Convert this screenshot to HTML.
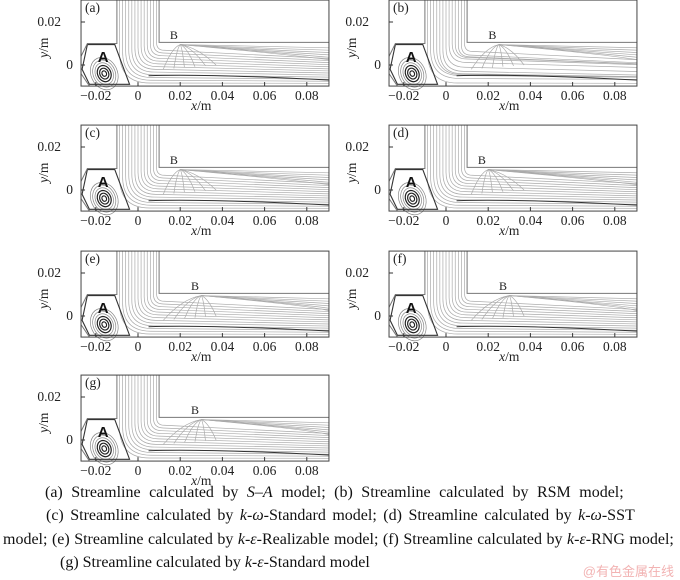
<!DOCTYPE html>
<html><head><meta charset="utf-8">
<style>
body{margin:0;background:#fff;width:680px;height:578px;overflow:hidden;font-family:"Liberation Serif",serif;}
svg{position:absolute;left:0;top:0}
.cap{position:absolute;font-size:16px;color:#111;white-space:nowrap;line-height:1}
.wm{position:absolute;right:6px;top:561px;font-family:"Liberation Sans","Noto Sans CJK SC",sans-serif;font-size:13px;color:#f2b3b3}
</style></head><body>
<svg id="s" width="680" height="578" xmlns="http://www.w3.org/2000/svg"></svg>
<div class="cap" style="top:485px;left:45px;word-spacing:4.5px">(a) Streamline calculated by <i>S</i>–<i>A</i> model; (b) Streamline calculated by RSM model;</div>
<div class="cap" style="top:508px;left:46px;word-spacing:2.5px">(c) Streamline calculated by <i>k</i>-<i>ω</i>-Standard model; (d) Streamline calculated by <i>k</i>-<i>ω</i>-SST</div>
<div class="cap" style="top:532px;left:3px;word-spacing:0.5px">model; (e) Streamline calculated by <i>k</i>-<i>ε</i>-Realizable model; (f) Streamline calculated by <i>k</i>-<i>ε</i>-RNG model;</div>
<div class="cap" style="top:555px;left:60px">(g) Streamline calculated by <i>k</i>-<i>ε</i>-Standard model</div>
<div class="wm">@有色金属在线</div>
<script>
var s=document.getElementById('s');var h='';
var panels=[[0,0,'a'],[308,0,'b'],[0,125,'c'],[308,125,'d'],[0,251,'e'],[308,251,'f'],[0,375,'g']];
panels.forEach(function(p,k){
 var ox=p[0],oy=p[1];
 function X(x){return ox+138+2110*x}
 function Y(y){return oy+65-2150*y}
 var L=X(-0.027),R=X(0.0905),T=Y(0.0302),B=Y(-0.0098);
 h+='<g stroke="#aaa" fill="none" stroke-width="0.7">';
 for(var i=0;i<13;i++){
  var t=(i+0.5)/13;var x0=-0.0095+0.019*t;
  var ye=-0.009+0.0165*t; if(k==1) ye+=0.001*Math.sin(i);
  var r=(0.01-x0)*0.6+0.003;
  var xs=X(x0),ys=Y(ye);
  h+='<path d="M'+xs+','+T+' L'+xs+','+(Y(ye+r))+' Q'+xs+','+ys+' '+X(x0+r)+','+ys+' L'+R+','+(Y(ye-0.004*t))+'"/>';
 }
 var bx=0.02+(k==1?0.005:0)+(k>=4?0.01:0);
 for(var j=0;j<6;j++){
  var xe=0.012+j*0.005;
  h+='<path d="M'+X(bx)+','+Y(0.0095)+' Q'+X((bx+xe)/2)+','+Y(0.008)+' '+X(xe)+','+Y(-0.002+j*0.0004)+'"/>';
  h+='<path d="M'+X(bx)+','+Y(0.0095)+' Q'+X(bx+0.02+j*0.006)+','+Y(0.009-j*0.0008)+' '+R+','+Y(0.008-j*0.0011)+'"/>';
 }
 h+='</g>';
 h+='<path d="M'+X(0.005)+','+Y(-0.005)+' Q'+X(0.03)+','+Y(-0.004)+' '+R+','+Y(-0.007)+'" stroke="#333" fill="none" stroke-width="1"/>';
 var cx=X(-0.016),cy=Y(-0.004);
 h+='<g fill="none">';
 for(var v=1;v<=6;v++){
  h+='<ellipse cx="'+cx+'" cy="'+cy+'" rx="'+(v*2.2)+'" ry="'+(v*2.8)+'" transform="rotate(-25 '+cx+' '+cy+')" stroke="'+(v<4?'#222':'#888')+'" stroke-width="'+(v<4?1.2:0.7)+'"/>';
 }
 h+='<path d="M'+X(-0.024)+','+Y(0.0095)+' L'+X(-0.011)+','+Y(0.0095)+' L'+X(-0.004)+','+Y(-0.009)+' L'+X(-0.023)+','+Y(-0.009)+' L'+X(-0.0265)+','+Y(-0.002)+' Z" stroke="#333" stroke-width="1.1"/>';
 h+='</g>';
 h+='<g stroke="#777" fill="none" stroke-width="1">';
 h+='<path d="M'+X(-0.01)+','+T+' L'+X(-0.01)+','+Y(0.01)+' L'+X(-0.024)+','+Y(0.01)+' L'+L+','+Y(0.004)+'"/>';
 h+='<path d="M'+L+','+Y(-0.004)+' L'+X(-0.023)+','+B+'"/>';
 h+='<path d="M'+X(0.01)+','+T+' L'+X(0.01)+','+Y(0.0105)+' L'+R+','+Y(0.0105)+'"/>';
 h+='</g>';
 h+='<rect x="'+L+'" y="'+T+'" width="'+(R-L)+'" height="'+(B-T)+'" fill="none" stroke="#444" stroke-width="1"/>';
 h+='<g stroke="#333" stroke-width="1">';
 [-0.02,0,0.02,0.04,0.06,0.08].forEach(function(x){h+='<line x1="'+X(x)+'" x2="'+X(x)+'" y1="'+B+'" y2="'+(B-4)+'"/>';});
 [0,0.02].forEach(function(y){h+='<line x1="'+L+'" x2="'+(L+4)+'" y1="'+Y(y)+'" y2="'+Y(y)+'"/>';});
 h+='</g>';
 h+='<g font-family="Liberation Serif,serif" font-size="13.5" fill="#222" text-anchor="middle">';
 [['−0.02',-0.02],['0',0],['0.02',0.02],['0.04',0.04],['0.06',0.06],['0.08',0.08]].forEach(function(a){h+='<text x="'+X(a[1])+'" y="'+(B+14)+'">'+a[0]+'</text>';});
 h+='<text x="'+X(0.03)+'" y="'+(B+24)+'" font-style="italic">x<tspan font-style="normal">/m</tspan></text>';
 h+='<text x="'+(L-20)+'" y="'+(Y(0.02)+4)+'" text-anchor="end">0.02</text>';
 h+='<text x="'+(L-8)+'" y="'+(Y(0)+4)+'" text-anchor="end">0</text>';
 h+='<text transform="translate('+(L-33)+','+Y(0.008)+') rotate(-90)" font-style="italic">y<tspan font-style="normal">/m</tspan></text>';
 h+='<text x="'+(L+4)+'" y="'+(T+12)+'" text-anchor="start">('+p[2]+')</text>';
 h+='<text x="'+X(bx-0.003)+'" y="'+(Y(0.012))+'" font-size="12">B</text>';
 h+='</g>';
 h+='<text x="'+X(-0.0165)+'" y="'+Y(0.0015)+'" font-family="Liberation Sans,sans-serif" font-size="15" font-weight="bold" fill="#111" text-anchor="middle">A</text>';
});
s.innerHTML=h;
</script>
</body></html>
